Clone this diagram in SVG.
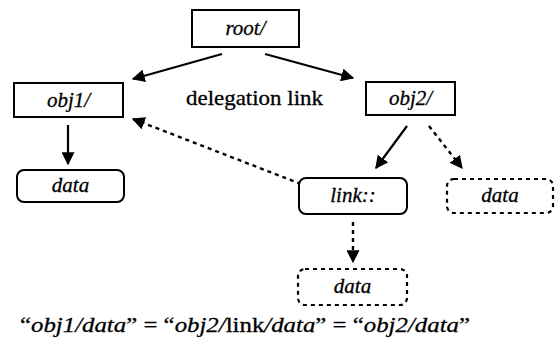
<svg xmlns="http://www.w3.org/2000/svg" width="559" height="345" viewBox="0 0 559 345">
<style>
.box{fill:#fff;stroke:#000;stroke-width:2}
.dbox{fill:#fff;stroke:#000;stroke-width:2.2;stroke-dasharray:4 4}
.t{font-family:"Liberation Serif","Times New Roman",serif;font-size:21px;fill:#000;stroke:#000;stroke-width:0.3}
.i{font-style:italic}
.c{text-anchor:middle}
.ln{stroke:#000;stroke-width:2.2;fill:none}
.dl{stroke:#000;stroke-width:2.4;fill:none;stroke-dasharray:4 4}
</style>
<defs>
<marker id="ah" viewBox="0 0 10 10" refX="9" refY="5" markerWidth="13" markerHeight="13" markerUnits="userSpaceOnUse" orient="auto">
<path d="M0,0 L10,5 L0,10 Z" fill="#000"/>
</marker>
</defs>
<g id="connectors">
<line class="ln" x1="222" y1="54" x2="133" y2="79" marker-end="url(#ah)"/>
<line class="ln" x1="265" y1="54" x2="353" y2="78" marker-end="url(#ah)"/>
<line class="ln" x1="68" y1="125" x2="68" y2="164" marker-end="url(#ah)"/>
<line class="ln" x1="407" y1="126" x2="376" y2="168" marker-end="url(#ah)"/>
<line class="dl" x1="429" y1="126" x2="462" y2="168" marker-end="url(#ah)"/>
<line class="dl" x1="353" y1="222" x2="353" y2="262" marker-end="url(#ah)"/>
<line class="dl" x1="301" y1="184" x2="133" y2="119" marker-end="url(#ah)"/>
<text class="t" x="186" y="105" textLength="137" lengthAdjust="spacingAndGlyphs">delegation link</text>
</g>
<g id="root"><rect class="box" x="192" y="10" width="107" height="37"/><text class="t i c" x="245.5" y="35">root/</text></g>
<g id="obj1"><rect class="box" x="14" y="83" width="109" height="34"/><text class="t i c" x="68.5" y="107">obj1/</text></g>
<g id="obj2"><rect class="box" x="366" y="82" width="89" height="33"/><text class="t i c" x="410.5" y="105">obj2/</text></g>
<g id="data1"><rect class="box" x="17" y="170" width="107" height="32" rx="7"/><text class="t i c" x="70.5" y="192">data</text></g>
<g id="link"><rect class="box" x="299" y="178" width="108" height="36" rx="7"/><text class="t i c" x="353" y="202">link::</text></g>
<g id="data2"><rect class="dbox" x="447" y="179" width="106" height="34" rx="7"/><text class="t i c" x="500" y="202">data</text></g>
<g id="data3"><rect class="dbox" x="298" y="269" width="109" height="36" rx="7"/><text class="t i c" x="352.5" y="293">data</text></g>
<text class="t" x="20" y="332" textLength="450" lengthAdjust="spacingAndGlyphs">“<tspan class="i">obj1/data</tspan>” = “<tspan class="i">obj2/</tspan>link<tspan class="i">/data</tspan>” = “<tspan class="i">obj2/data</tspan>”</text>
</svg>
